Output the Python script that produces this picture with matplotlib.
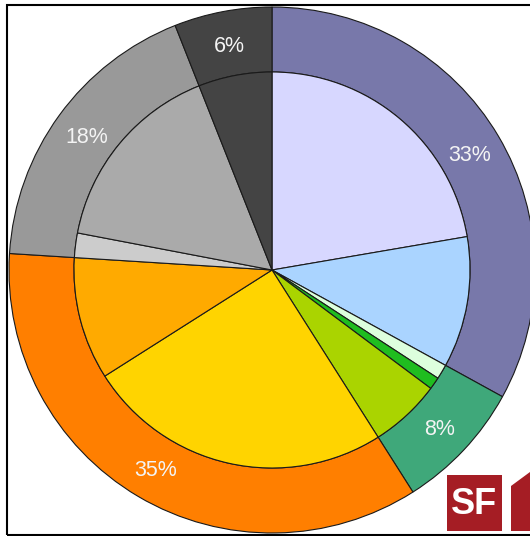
import matplotlib
matplotlib.use("Agg")
import matplotlib.pyplot as plt
from matplotlib.patches import Rectangle, Polygon

# outer ring: groups
outer_vals = [33, 8, 35, 18, 6]
outer_colors = ['#7878aa', '#3fa87a', '#ff7f00', '#999999', '#444444']

# inner pie: sub-categories (same order, clockwise from 12 o'clock)
inner_vals = [22.3, 10.7, 1.2, 1.0, 5.8, 25, 10, 2, 16, 6]
inner_colors = ['#d7d7ff', '#aad4ff', '#ddffdd', '#1fbd1f', '#aad400',
                '#ffd400', '#ffaa00', '#cccccc', '#aaaaaa', '#444444']

W, H = 530, 536
cx, cy = 272, H - 270
R_out, R_in = 263, 198

fig = plt.figure(figsize=(W / 100, H / 100), dpi=100)
ax = fig.add_axes([0, 0, 1, 1])

edge = dict(edgecolor='#1a1a1a', linewidth=0.8)

_, _, pct_texts = ax.pie(outer_vals, radius=R_out, center=(cx, cy), startangle=90,
                         counterclock=False, colors=outer_colors,
                         wedgeprops=dict(width=R_out - R_in, **edge),
                         autopct='%.0f%%', pctdistance=0.873,
                         textprops=dict(color='#f4f4f4', fontsize=15.5,
                                        family='Liberation Sans'))
# labels sit a touch below the ring's mid-line in the original
for t in pct_texts:
    x, y = t.get_position()
    t.set_position((x, y - 2.5))

ax.pie(inner_vals, radius=R_in, center=(cx, cy), startangle=90, counterclock=False,
       colors=inner_colors, wedgeprops=edge)

ax.set_xlim(0, W)
ax.set_ylim(0, H)
ax.set_aspect('equal')
ax.axis('off')

# frame round the chart
ax.add_patch(Rectangle((7, 1), 560, 530, fill=False, edgecolor='black', linewidth=1.5, zorder=5))

# SF logo, bottom right
logo_red = '#a51d24'
ax.add_patch(Rectangle((447, H - 531), 55, 56, facecolor=logo_red, edgecolor='none', zorder=6))
ax.add_patch(Polygon([(511, H - 531), (511, H - 486), (530, H - 472), (530, H - 531)],
                     closed=True, facecolor=logo_red, edgecolor='none', zorder=6))
ax.text(474, H - 504, 'SF', color='white', fontsize=26, fontweight='heavy',
        family='Liberation Sans', ha='center', va='center', zorder=7)

fig.savefig('out.png', dpi=100)
